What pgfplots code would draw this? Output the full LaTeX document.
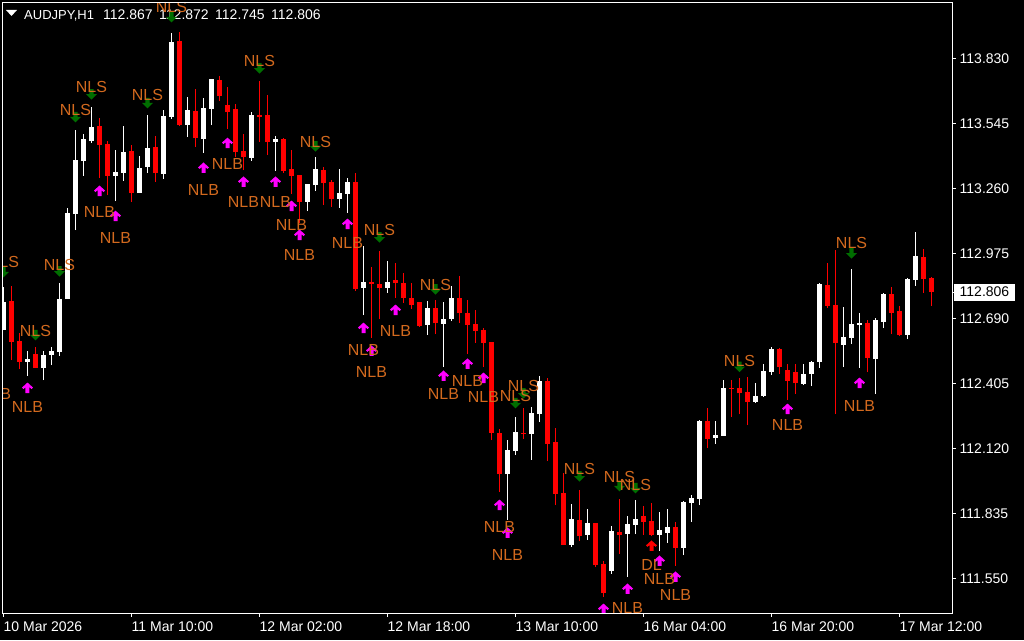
\documentclass[border=0pt]{standalone}
\usepackage{fontspec}
\setmainfont{Liberation Sans}
\usepackage{pgfplots}
\usepackage{pgfplotstable}
\pgfplotsset{compat=1.18}
\definecolor{labelcolor}{HTML}{D2691E}
\definecolor{nlsgreen}{HTML}{006E00}
\definecolor{nlbmagenta}{HTML}{FF00FF}

% bullish bars
\pgfplotstableread{
k open high low close
0 112.640 112.828 112.640 112.762
3 112.499 112.548 112.438 112.512
5 112.473 112.548 112.420 112.530
6 112.530 112.565 112.486 112.548
7 112.543 112.846 112.526 112.776
8 112.776 113.175 112.776 113.153
9 113.148 113.517 113.078 113.385
10 113.381 113.499 113.315 113.477
11 113.468 113.617 113.459 113.530
14 113.315 113.429 113.205 113.332
15 113.328 113.534 113.293 113.420
17 113.240 113.403 113.240 113.350
18 113.354 113.582 113.328 113.438
20 113.324 113.604 113.302 113.578
21 113.574 113.942 113.565 113.902
23 113.538 113.661 113.486 113.604
25 113.477 113.657 113.416 113.613
26 113.608 113.740 113.538 113.740
31 113.394 113.595 113.381 113.582
34 113.464 113.490 113.337 113.477
38 113.201 113.280 113.161 113.280
39 113.275 113.398 113.249 113.345
42 113.214 113.345 113.175 113.240
43 113.236 113.306 113.153 113.289
45 112.824 113.008 112.705 112.850
48 112.824 112.942 112.802 112.850
53 112.662 112.767 112.618 112.736
55 112.666 112.762 112.477 112.688
56 112.688 112.833 112.679 112.780
63 112.008 112.157 111.807 112.113
64 112.109 112.258 112.092 112.192
66 112.184 112.302 112.070 112.276
67 112.271 112.438 112.236 112.416
71 111.697 111.877 111.688 111.811
73 111.741 111.855 111.719 111.793
76 111.583 111.780 111.570 111.758
78 111.745 111.824 111.557 111.789
79 111.785 111.894 111.745 111.811
82 111.741 111.842 111.671 111.763
83 111.750 111.855 111.706 111.776
85 111.684 111.890 111.653 111.885
86 111.881 111.916 111.798 111.903
87 111.899 112.245 111.872 112.241
89 112.166 112.241 112.140 112.179
90 112.175 112.420 112.175 112.385
94 112.324 112.407 112.320 112.350
95 112.350 112.491 112.346 112.460
96 112.455 112.565 112.442 112.556
100 112.403 112.491 112.398 112.447
101 112.447 112.504 112.394 112.499
102 112.499 112.846 112.473 112.841
105 112.574 112.740 112.477 112.609
106 112.605 112.907 112.578 112.666
107 112.662 112.714 112.473 112.670
109 112.512 112.692 112.359 112.683
110 112.675 112.802 112.648 112.798
113 112.618 112.868 112.600 112.863
114 112.859 113.069 112.833 112.964
}\upbars

% bearish bars
\pgfplotstableread{
k open high low close
1 112.767 112.833 112.508 112.587
2 112.591 112.626 112.469 112.499
4 112.534 112.565 112.473 112.473
12 113.534 113.569 113.306 113.451
13 113.455 113.468 113.232 113.315
16 113.424 113.451 113.201 113.240
19 113.442 113.490 113.289 113.328
22 113.907 113.946 113.534 113.538
24 113.600 113.696 113.442 113.481
27 113.736 113.753 113.644 113.666
28 113.626 113.705 113.521 113.595
29 113.608 113.631 113.398 113.420
30 113.424 113.499 113.341 113.398
32 113.582 113.731 113.464 113.574
33 113.582 113.670 113.407 113.464
35 113.477 113.481 113.328 113.337
36 113.345 113.429 113.236 113.315
37 113.319 113.319 113.109 113.201
40 113.341 113.354 113.188 113.284
41 113.289 113.297 113.179 113.214
44 113.289 113.328 112.811 112.819
46 112.850 112.916 112.605 112.841
47 112.841 112.986 112.688 112.824
49 112.859 112.933 112.780 112.846
50 112.846 112.889 112.758 112.780
51 112.780 112.846 112.732 112.749
52 112.762 112.762 112.653 112.657
54 112.736 112.771 112.622 112.670
57 112.780 112.876 112.670 112.714
58 112.714 112.771 112.534 112.662
59 112.666 112.727 112.583 112.635
60 112.640 112.648 112.477 112.583
61 112.587 112.587 112.157 112.188
62 112.188 112.205 111.929 112.008
65 112.188 112.298 112.162 112.184
68 112.416 112.429 112.065 112.140
69 112.149 112.210 111.872 111.921
70 111.925 112.013 111.697 111.697
72 111.807 111.938 111.714 111.736
74 111.793 111.793 111.600 111.609
75 111.614 111.627 111.469 111.486
77 111.754 111.899 111.658 111.741
80 111.824 111.868 111.741 111.798
81 111.802 111.881 111.736 111.741
84 111.776 111.798 111.605 111.684
88 112.241 112.298 112.122 112.162
91 112.385 112.420 112.258 112.381
92 112.385 112.429 112.271 112.363
93 112.368 112.433 112.223 112.324
97 112.556 112.560 112.447 112.477
98 112.464 112.491 112.333 112.416
99 112.455 112.491 112.359 112.407
103 112.837 112.933 112.736 112.745
104 112.749 112.990 112.271 112.583
108 112.670 112.683 112.455 112.517
111 112.798 112.828 112.622 112.714
112 112.723 112.745 112.613 112.618
115 112.960 112.995 112.802 112.863
116 112.867 112.872 112.745 112.806
}\downbars

% y = arrow, ly = text
\pgfplotstableread{
k y ly
0 112.894 112.936
4 112.618 112.637
7 112.898 112.925
9 113.574 113.604
11 113.674 113.705
18 113.635 113.668
21 114.012 114.058
32 113.788 113.817
39 113.446 113.464
47 113.047 113.080
54 112.819 112.839
64 112.320 112.352
65 112.363 112.396
72 111.999 112.032
77 111.956 111.993
79 111.947 111.962
92 112.479 112.504
106 112.977 113.021
}\nlssignals

\pgfplotstableread{
k y ly
-1 112.455 112.361
3 112.385 112.302
12 113.249 113.159
14 113.139 113.041
25 113.350 113.253
28 113.459 113.367
30 113.289 113.199
34 113.289 113.203
36 113.183 113.100
37 113.056 112.968
43 113.104 113.019
45 112.648 112.554
46 112.548 112.455
49 112.727 112.635
55 112.438 112.359
58 112.491 112.414
60 112.429 112.346
62 111.872 111.774
63 111.750 111.651
75 111.416 111.324
78 111.504 111.421
82 111.627 111.548
84 111.557 111.478
98 112.293 112.223
107 112.407 112.306
}\nlbsignals

\pgfdeclareplotmark{sigup}{%
  \pgfpathmoveto{\pgfqpoint{0pt}{5.5pt}}
  \pgfpathlineto{\pgfqpoint{5.5pt}{0.5pt}}
  \pgfpathlineto{\pgfqpoint{4pt}{-1pt}}
  \pgfpathlineto{\pgfqpoint{2pt}{0.8pt}}
  \pgfpathlineto{\pgfqpoint{2pt}{-5pt}}
  \pgfpathlineto{\pgfqpoint{-2pt}{-5pt}}
  \pgfpathlineto{\pgfqpoint{-2pt}{0.8pt}}
  \pgfpathlineto{\pgfqpoint{-4pt}{-1pt}}
  \pgfpathlineto{\pgfqpoint{-5.5pt}{0.5pt}}
  \pgfpathclose
  \pgfusepathqfill}
\pgfdeclareplotmark{sigdown}{%
  \pgfpathmoveto{\pgfqpoint{0pt}{-5.5pt}}
  \pgfpathlineto{\pgfqpoint{5.5pt}{0pt}}
  \pgfpathlineto{\pgfqpoint{2.2pt}{0pt}}
  \pgfpathlineto{\pgfqpoint{2.2pt}{5pt}}
  \pgfpathlineto{\pgfqpoint{-2.2pt}{5pt}}
  \pgfpathlineto{\pgfqpoint{-2.2pt}{0pt}}
  \pgfpathlineto{\pgfqpoint{-5.5pt}{0pt}}
  \pgfpathclose
  \pgfusepathqfill}

\pgfplotsset{
  chart/.style={
    at={(2.5pt,26.5pt)}, anchor=south west,
    scale only axis, width=950pt, height=611pt,
    xmin=-0.125, xmax=118.625,
    ymin=111.39654, ymax=114.07554,
  },
  wick/.style={draw=none, forget plot, no markers,
    error bars/.cd, y dir=plus, y explicit, error mark=none,
    error bar style={draw=#1, line width=1.2pt}},
  body/.style={draw=none, forget plot, no markers,
    error bars/.cd, y dir=plus, y explicit, error mark=none,
    error bar style={draw=#1, line width=5pt}},
  arrows/.style 2 args={only marks, mark=#1, color=#2, forget plot},
  siglabel/.style={only marks, mark=none, forget plot,
    nodes near coords={#1},
    every node near coord/.style={anchor=center, inner sep=0pt,
      text=labelcolor, font=\fontsize{16}{16}\selectfont}},
}

\begin{document}
\begin{tikzpicture}[x=1pt,y=1pt]
\fill[black] (0,0) rectangle (1024,640);
\useasboundingbox (0,0) rectangle (1024,640);

% header line, under the signals
\fill[white] (6,630) -- (17,630) -- (11.5,624) -- cycle;
\begin{scope}[every node/.style={anchor=base west, inner sep=0pt, text=white, font=\fontsize{14}{14}\selectfont}]
\node[font=\fontsize{13}{13}\selectfont] at (24,620.5) {AUDJPY,H1};
\node at (103,620.5) {112.867};
\node at (159,620.5) {112.872};
\node at (215,620.5) {112.745};
\node at (271,620.5) {112.806};
\end{scope}

\begin{scope}
\clip (2.5,26.5) rectangle (952.5,637.5);
\begin{axis}[chart, hide axis, clip=false]
  \addplot[wick=white] table[x=k, y=low, y error plus expr=\thisrow{high}-\thisrow{low}] {\upbars};
  \addplot[wick=red] table[x=k, y=low, y error plus expr=\thisrow{high}-\thisrow{low}] {\downbars};
  \addplot[body=white] table[x=k, y=open, y error plus expr=\thisrow{close}-\thisrow{open}] {\upbars};
  \addplot[body=red] table[x=k, y=close, y error plus expr=\thisrow{open}-\thisrow{close}] {\downbars};

  \addplot[arrows={sigdown}{nlsgreen}] table[x=k, y=y] {\nlssignals};
  \addplot[siglabel=NLS] table[x=k, y=ly] {\nlssignals};
  \addplot[arrows={sigup}{nlbmagenta}] table[x=k, y=y] {\nlbsignals};
  \addplot[siglabel=NLB] table[x=k, y=ly] {\nlbsignals};
  \addplot[arrows={sigup}{red}] coordinates {(81,111.693)};
  \addplot[siglabel=DL] coordinates {(81,111.611)};
\end{axis}
\end{scope}

% frame, ticks and scale
\begin{axis}[chart,
    axis line style={white, line width=1pt},
    tick style={white, line width=1pt},
    tick align=outside, major tick length=3pt,
    xtick pos=lower, ytick pos=right,
    xtick={0,16,32,48,64,80,96,112},
    xticklabels={10 Mar 2026, 11 Mar 10:00, 12 Mar 02:00, 12 Mar 18:00, 13 Mar 10:00, 16 Mar 04:00, 16 Mar 20:00, 17 Mar 12:00},
    ytick={111.55,111.835,112.12,112.405,112.69,112.975,113.26,113.545,113.83},
    yticklabels={111.550,111.835,112.120,112.405,112.690,112.975,113.260,113.545,113.830},
    scaled y ticks=false,
    every tick label/.append style={text=white, font=\fontsize{14}{14}\selectfont},
    xticklabel style={anchor=north west, inner sep=0pt, yshift=-5pt},
    yticklabel style={anchor=west, inner sep=0pt, xshift=4pt},
    extra y ticks={112.806},
    extra y tick labels={112.806},
    extra y tick style={yticklabel style={fill=white, text=black, inner xsep=5.5pt, inner ysep=0pt, minimum height=17pt, xshift=-5.5pt}},
]
\end{axis}
\end{tikzpicture}
\end{document}
